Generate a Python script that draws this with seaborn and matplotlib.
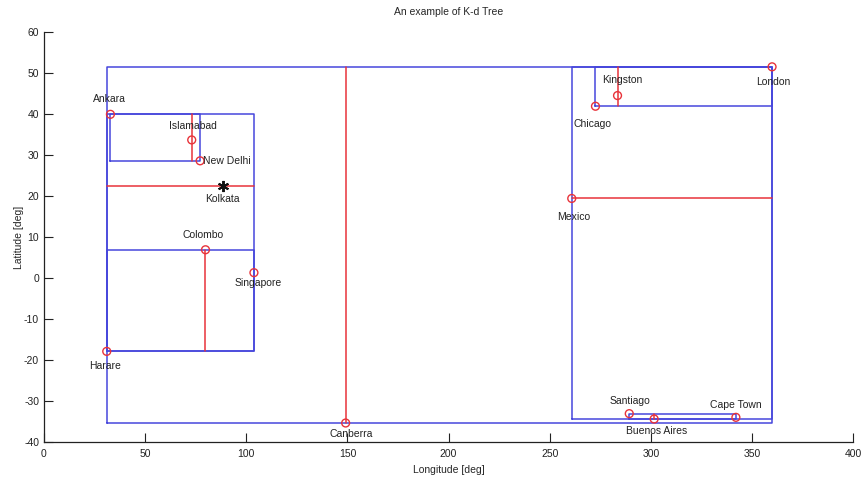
import numpy as np
import pandas as pd
import matplotlib
matplotlib.use("Agg")
import matplotlib.pyplot as plt
import seaborn as sns

# city coordinates (longitude shifted to 0..360)
cities = ["Ankara", "Islamabad", "New Delhi", "Kolkata", "Colombo", "Singapore",
          "Harare", "Canberra", "Mexico", "Chicago", "Kingston", "London",
          "Santiago", "Buenos Aires", "Cape Town"]
lons = [32.87, 73.05, 77.2, 88.36, 79.86, 103.8,
        31.05, 149.13, 260.87, 272.6, 283.5, 359.87,
        289.3, 301.6, 342.0]
lats = [39.93, 33.69, 28.6, 22.57, 6.93, 1.35,
        -17.83, -35.28, 19.43, 41.9, 44.5, 51.5,
        -33.0, -34.3, -33.9]
query_city = "Kolkata"

# label placement: (dx, dy, ha)
label_pos = {
    "Ankara": (-0.5, 3.8, "center"), "Islamabad": (0.5, 3.4, "center"),
    "New Delhi": (1.2, 0.0, "left"), "Kolkata": (0, -3.2, "center"),
    "Colombo": (-1.2, 3.5, "center"), "Singapore": (2.0, -2.4, "center"),
    "Harare": (-0.8, -3.5, "center"), "Canberra": (2.6, -2.8, "center"),
    "Mexico": (1.2, -4.4, "center"), "Chicago": (-1.4, -4.3, "center"),
    "Kingston": (2.3, 3.8, "center"), "London": (0.5, -3.7, "center"),
    "Santiago": (0.4, 3.2, "center"), "Buenos Aires": (1.0, -3.0, "center"),
    "Cape Town": (0.2, 3.1, "center"),
}

df = pd.DataFrame({"city": cities, "lon": lons, "lat": lats})

sns.set_style("ticks")
plt.rcParams["font.family"] = ["Liberation Sans Narrow", "Liberation Sans", "DejaVu Sans"]
plt.rcParams["axes.unicode_minus"] = False

fig = plt.figure(figsize=(8.61, 4.84), dpi=100)
ax = fig.add_axes([0.051, 0.086, 0.940, 0.848])

BLUE = "#4646dc"
RED = "#e8333a"


def build(pts, depth):
    # simple kd-tree: median split, alternating x / y
    if len(pts) < 2:
        return
    xs, ys = pts[:, 0], pts[:, 1]
    x0, x1, y0, y1 = xs.min(), xs.max(), ys.min(), ys.max()
    ax.plot([x0, x1, x1, x0, x0], [y0, y0, y1, y1, y0], color=BLUE, lw=1.1, zorder=2)
    d = depth % 2
    pts = pts[np.argsort(pts[:, d])]
    m = len(pts) // 2
    v = pts[m, d]
    if d == 0:
        ax.plot([v, v], [y0, y1], color=RED, lw=1.1, zorder=3)
    else:
        ax.plot([x0, x1], [v, v], color=RED, lw=1.1, zorder=3)
    build(pts[:m], depth + 1)
    build(pts[m + 1:], depth + 1)


build(df[["lon", "lat"]].to_numpy(), 0)

others = df[df.city != query_city]
query = df[df.city == query_city]
sns.scatterplot(data=others, x="lon", y="lat", ax=ax, marker="o", s=32,
                facecolor="none", edgecolor=RED, linewidth=1.0, zorder=4)
ax.plot(query.lon, query.lat, marker=(6, 2, 0), color="#111111", mew=1.4, ms=8,
        ls="none", zorder=5)

for c, x, y in zip(cities, lons, lats):
    dx, dy, ha = label_pos[c]
    ax.text(x + dx, y + dy, c, ha=ha, va="center", fontsize=7.5, color="#222222", zorder=6)

ax.set_xlim(0, 400)
ax.set_ylim(-40, 60)
ax.set_xticks(range(0, 401, 50))
ax.set_yticks(range(-40, 61, 10))
ax.tick_params(direction="in", length=6.5, width=0.8, labelsize=7.5, colors="#222222")
ax.tick_params(axis="x", pad=5)
for s in ["top", "right"]:
    ax.spines[s].set_visible(False)
for s in ["left", "bottom"]:
    ax.spines[s].set_color("#222222")
    ax.spines[s].set_linewidth(0.9)
ax.set_xlabel("Longitude [deg]", fontsize=7.5, labelpad=4)
ax.set_ylabel("Latitude [deg]", fontsize=7.5, labelpad=0)
ax.set_title("An example of K-d Tree", fontsize=7.5, pad=12)

fig.savefig("out.png", dpi=100)
